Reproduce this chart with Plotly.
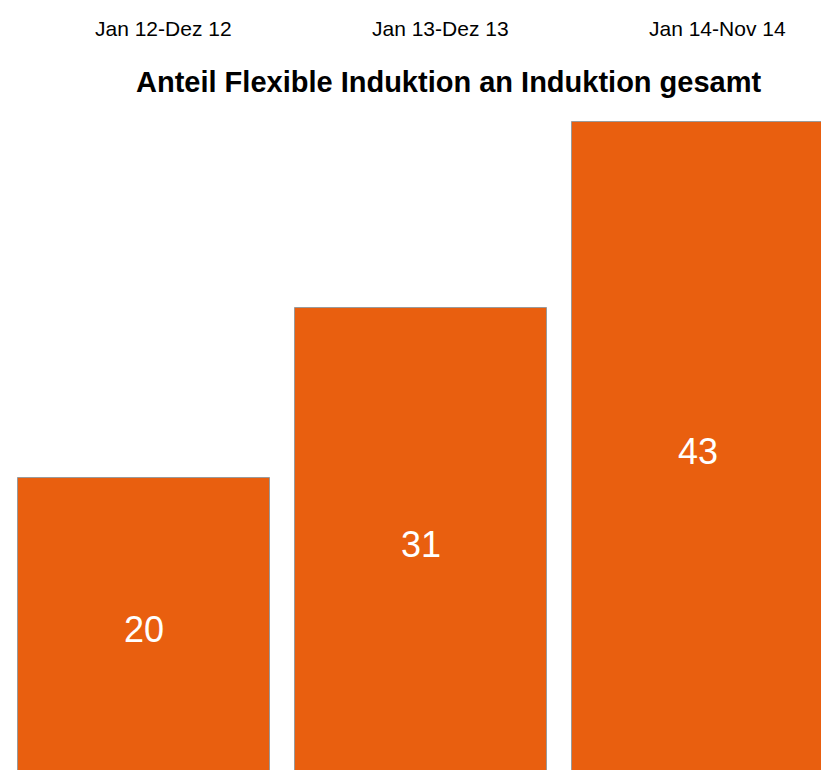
import plotly.graph_objects as go

# Share of flexible induction in total induction, per period
categories = ["Jan 12-Dez 12", "Jan 13-Dez 13", "Jan 14-Nov 14"]
values = [20, 31, 43]
title_text = "Anteil Flexible Induktion an Induktion gesamt"

bar_color = "#E95F0F"
font_family = "Liberation Sans, Arial, sans-serif"
xs = list(range(len(categories)))

fig = go.Figure()
fig.add_trace(go.Bar(
    x=xs,
    y=values,
    width=0.91,
    marker=dict(color=bar_color, line=dict(color="#9a9a9a", width=1)),
    hoverinfo="skip",
))
# Value labels, centred on each bar
fig.add_trace(go.Scatter(
    x=xs,
    y=[v / 2 for v in values],
    text=[str(v) for v in values],
    mode="text",
    textfont=dict(family=font_family, size=36, color="white"),
    hoverinfo="skip",
))

# Period labels along the top
for i, c in enumerate(categories):
    fig.add_annotation(
        x=i + 0.069, y=1, xref="x", yref="paper", yanchor="middle",
        yshift=-28, text=c, showarrow=False,
        font=dict(family=font_family, size=21, color="black"),
    )

fig.add_annotation(
    x=449 / 821, y=1, xref="paper", yref="paper", yanchor="middle",
    yshift=-82, text="<b>" + title_text + "</b>", showarrow=False,
    font=dict(family=font_family, size=29, color="black"),
)

# y scale: zero sits just below the bottom edge
px_per_unit = 15.5
plot_h = 770
zero_px = 788
y_lo = (zero_px - plot_h) / px_per_unit
y_hi = y_lo + plot_h / px_per_unit

fig.update_layout(
    width=821, height=770,
    margin=dict(l=0, r=0, t=0, b=0),
    paper_bgcolor="white", plot_bgcolor="white",
    showlegend=False,
    xaxis=dict(range=[-144 / 277, (821 - 144) / 277], visible=False, fixedrange=True),
    yaxis=dict(range=[y_lo, y_hi], visible=False, fixedrange=True),
    bargap=0,
)

fig.write_html("out.html")
